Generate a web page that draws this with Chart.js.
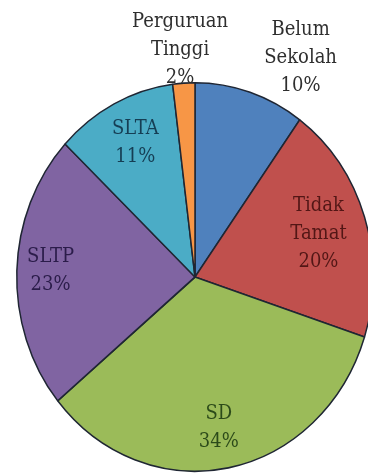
<!DOCTYPE html>
<html><head><meta charset="utf-8">
<script src="https://cdn.jsdelivr.net/npm/chart.js@4/dist/chart.umd.min.js"></script>
<style>
html,body{margin:0;padding:0;background:#fff;overflow:hidden;width:368px;height:474px;position:relative}
#c{position:absolute;left:0;top:0}
</style></head>
<body><canvas id="c" width="380" height="474"></canvas>
<script>
// ---- data ----
const categories = ['Belum Sekolah', 'Tidak Tamat', 'SD', 'SLTP', 'SLTA', 'Perguruan Tinggi'];
const labelLines = [['Belum', 'Sekolah'], ['Tidak', 'Tamat'], ['SD'], ['SLTP'], ['SLTA'], ['Perguruan', 'Tinggi']];
const percentages = [10, 20, 34, 23, 11, 2];

// ---- style ----
const colors = ['#4F81BD', '#C0504D', '#9BBB59', '#8064A2', '#4BACC6', '#F79646'];
const SY = 1.09; // vertical stretch of the pie (ellipse)
const labelRadius = [1.274, 0.727, 0.786, 0.811, 0.769, 1.172];
const labelNudgeDeg = [9.7, 0.3, 1.0, 0.4, 1.2, -0.5];
const labelColor = ['#2e2e2e', 'rgba(40,0,0,0.72)', 'rgba(0,30,0,0.72)', 'rgba(10,0,40,0.72)', 'rgba(0,20,40,0.72)', '#2e2e2e'];
const LH = 28;

const ellipse = {
  id: 'ellipse',
  beforeDatasetsDraw(chart) {
    const a = chart.getDatasetMeta(0).data[0];
    const ctx = chart.ctx;
    ctx.save();
    ctx.translate(0, a.y);
    ctx.scale(1, SY);
    ctx.translate(0, -a.y);
  },
  afterDatasetsDraw(chart) { chart.ctx.restore(); }
};

const pieLabels = {
  id: 'pieLabels',
  afterDraw(chart) {
    const ctx = chart.ctx;
    const meta = chart.getDatasetMeta(0);
    ctx.save();
    ctx.font = '18px "DejaVu Serif"';
    ctx.textAlign = 'center';
    ctx.textBaseline = 'middle';
    meta.data.forEach((arc, i) => {
      const p = arc.getProps(['x', 'y', 'startAngle', 'endAngle', 'outerRadius'], true);
      const mid = (p.startAngle + p.endAngle) / 2 + labelNudgeDeg[i] * Math.PI / 180;
      const r = p.outerRadius * labelRadius[i];
      const px = p.x + Math.cos(mid) * r;
      const py = p.y + Math.sin(mid) * r * SY;
      const lines = labelLines[i].concat([percentages[i] + '%']);
      ctx.fillStyle = labelColor[i];
      lines.forEach((t, k) => {
        const ly = py + (k - (lines.length - 1) / 2) * LH;
        ctx.save();
        ctx.translate(px, ly);
        ctx.scale(1, SY);
        ctx.fillText(t, 0, 0);
        ctx.restore();
      });
    });
    ctx.restore();
  }
};

new Chart(document.getElementById('c'), {
  type: 'pie',
  data: {
    labels: categories,
    datasets: [{
      data: percentages,
      backgroundColor: colors,
      borderColor: '#1f2633',
      borderWidth: 1.5
    }]
  },
  options: {
    responsive: false,
    animation: false,
    events: [],
    layout: { padding: { left: 16, right: 6, top: 98, bottom: 18 } },
    plugins: { legend: { display: false }, tooltip: { enabled: false } }
  },
  plugins: [ellipse, pieLabels]
});
</script>
</body></html>
